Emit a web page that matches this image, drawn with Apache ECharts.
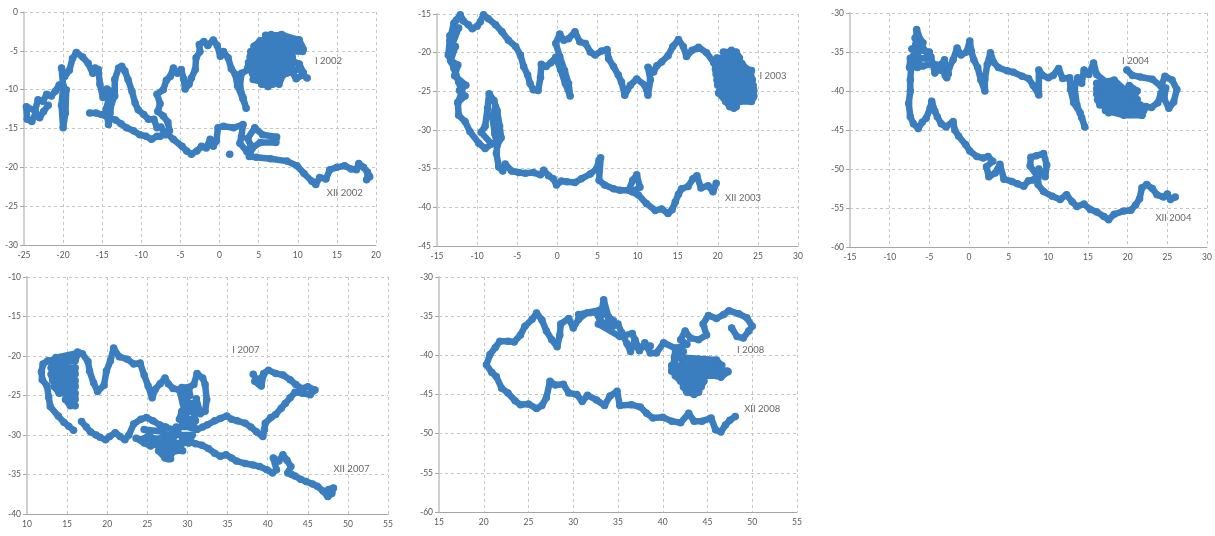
<!DOCTYPE html>
<html>
<head>
<meta charset="utf-8">
<script src="https://cdn.jsdelivr.net/npm/echarts@6/dist/echarts.min.js"></script>
<style>
html,body{margin:0;padding:0;background:#fff;}
#chart{width:1215px;height:536px;}
</style>
</head>
<body>
<div id="chart"></div>
<script>
// ---------- DATA ----------
const xTicks2002 = [-25, 20], yTicks2002 = [-30, 0];
const xTicks2003 = [-15, 30], yTicks2003 = [-45, -15];
const xTicks2004 = [-15, 30], yTicks2004 = [-60, -30];
const xTicks2007 = [10, 55], yTicks2007 = [-40, -10];
const xTicks2008 = [15, 55], yTicks2008 = [-60, -30];

const labels2002 = [["I 2002", 12.2, -6.3], ["XII 2002", 13.7, -23.3]];
const labels2003 = [["I 2003", 25.2, -23.0], ["XII 2003", 20.9, -38.8]];
const labels2004 = [["I 2004", 19.3, -36.1], ["XII 2004", 23.5, -56.3]];
const labels2007 = [["I 2007", 35.6, -19.2], ["XII 2007", 48.2, -34.3]];
const labels2008 = [["I 2008", 48.3, -39.3], ["XII 2008", 49.1, -46.8]];

const track2002a = [[11.2,-8.5],[10.6,-8.1],[9.8,-8.6],[9.3,-7.8],[10.1,-7.3],[10.7,-7.8],[10.2,-6.7],[9.3,-6.3],[8.7,-5.4],[9.4,-4.6],[10.3,-4.3],[10.7,-4.8],[10.2,-3.6],[9.3,-4.0],[8.5,-3.3],[7.9,-2.9],[7.3,-3.6],[6.6,-2.9],[5.9,-3.2],[5.4,-4.3],[4.5,-4.7],[4.1,-5.7],[4.9,-6.3],[4.2,-7.1],[5.0,-7.7],[4.3,-8.7],[5.4,-9.0],[6.2,-9.6],[6.8,-8.7],[7.6,-9.3],[8.1,-8.1],[7.3,-7.3],[6.4,-8.0],[5.8,-6.9],[6.7,-6.1],[7.6,-6.5],[8.2,-5.6],[7.6,-4.8],[6.6,-4.4],[5.9,-5.4],[5.2,-5.7],[5.6,-6.7],[4.8,-7.2],[3.7,-7.4],[2.8,-7.9],[2.6,-9.6],[3.0,-11.0],[3.4,-12.4],[3.0,-11.2],[2.3,-9.5],[2.0,-8.0],[1.5,-7.3],[1.1,-5.9],[0.5,-5.1],[0.1,-5.7],[-0.3,-4.3],[-0.8,-3.6],[-1.5,-4.3],[-2.0,-3.8],[-2.6,-4.2],[-2.5,-5.1],[-3.0,-5.9],[-3.1,-7.4],[-3.6,-8.5],[-3.9,-9.3],[-4.4,-9.9],[-4.6,-8.6],[-4.9,-7.4],[-5.4,-7.9],[-5.9,-7.2],[-6.3,-8.3],[-6.8,-8.8],[-7.2,-10.0],[-8.0,-10.6],[-7.6,-11.8],[-7.9,-12.8],[-7.2,-13.4],[-6.6,-14.2],[-6.4,-15.3],[-6.9,-15.8],[-7.5,-14.8],[-8.0,-14.9],[-8.4,-13.8],[-9.1,-13.8],[-9.7,-13.2],[-10.4,-12.6],[-10.8,-11.7],[-11.2,-10.2],[-11.7,-8.7],[-12.1,-7.6],[-12.5,-7.0],[-12.9,-7.2],[-13.4,-8.7],[-13.4,-10.8],[-13.8,-11.7],[-14.0,-13.0],[-14.2,-14.5],[-14.5,-12.5],[-13.9,-10.2],[-14.4,-9.9],[-14.9,-11.0],[-15.3,-9.3],[-15.5,-7.4],[-15.9,-7.2],[-16.2,-7.9],[-16.8,-6.6],[-17.5,-5.8],[-18.3,-5.2],[-18.8,-6.0],[-19.2,-7.5],[-19.8,-8.3],[-20.2,-7.2],[-20.0,-9.5],[-20.2,-12.0],[-20.0,-14.9],[-19.7,-13.0],[-19.6,-10.0],[-20.5,-9.4],[-21.0,-10.2],[-21.5,-10.8],[-22.1,-10.6],[-22.6,-11.5],[-23.2,-11.3],[-23.6,-12.7],[-24.7,-12.2],[-24.6,-13.8],[-24.0,-14.1],[-23.5,-13.0],[-23.0,-13.6],[-22.5,-12.8],[-21.9,-12.0]];
const track2002b = [[-16.6,-13.0],[-15.8,-13.0],[-15.1,-13.2],[-14.2,-13.6],[-13.3,-13.9],[-12.6,-14.4],[-11.9,-14.9],[-11.0,-15.3],[-10.2,-15.8],[-9.4,-16.0],[-8.7,-16.4],[-8.0,-16.0],[-7.6,-16.0],[-6.8,-15.6],[-5.9,-16.4],[-4.8,-17.3],[-4.2,-17.9],[-3.6,-18.3],[-2.9,-17.9],[-2.3,-17.3],[-1.7,-17.5],[-1.2,-16.4],[-0.8,-17.3],[-0.4,-16.6],[-0.2,-14.9],[0.5,-14.7],[1.8,-14.9],[3.0,-14.5],[2.8,-16.0],[2.6,-16.9],[3.5,-18.0],[4.0,-17.2],[3.6,-16.3],[4.5,-14.9],[5.5,-15.8],[7.3,-16.1],[7.2,-16.8],[5.2,-16.8],[4.2,-17.5],[3.8,-18.6],[4.7,-18.7],[6.5,-18.9],[8.6,-19.2],[9.9,-19.8],[10.8,-20.8],[11.8,-21.8],[12.3,-22.2],[12.8,-21.3],[13.6,-21.5],[14.1,-20.3],[15.0,-20.0],[16.0,-19.8],[16.8,-20.2],[17.5,-20.3],[17.8,-19.5],[18.4,-20.0],[18.9,-20.6],[19.2,-21.2],[18.8,-21.6],[19.0,-21.0]];
const track2002c = [[1.3,-18.3]];
const fill2002 = [[5.9,-3.0],[8.1,-3.0],[10.1,-3.6],[5.2,-3.7],[4.4,-4.4],[10.5,-4.4],[10.6,-5.1],[4.0,-5.1],[3.9,-5.8],[9.3,-5.8],[9.5,-6.5],[3.7,-6.5],[3.6,-7.2],[9.2,-7.2],[8.6,-7.9],[4.2,-7.9],[4.4,-8.6],[7.6,-8.6],[6.8,-9.3],[5.4,-9.3]];

const track2003 = [[24.4,-25.8],[24.1,-24.2],[23.5,-23.2],[24.2,-22.3],[23.1,-22.0],[22.4,-20.3],[21.7,-19.7],[21.0,-20.3],[21.4,-21.9],[22.1,-23.4],[21.5,-25.0],[22.0,-27.2],[21.0,-26.3],[20.1,-25.2],[20.6,-23.6],[22.8,-24.5],[23.6,-25.8],[22.7,-26.3],[21.2,-23.5],[20.0,-22.4],[19.5,-21.3],[18.6,-20.0],[17.6,-19.3],[16.8,-19.7],[16.1,-20.5],[15.7,-19.2],[15.1,-18.3],[14.4,-19.2],[13.8,-20.4],[13.0,-21.2],[12.4,-21.7],[12.0,-22.5],[11.3,-21.9],[11.6,-23.5],[11.3,-25.5],[10.9,-24.2],[9.9,-23.4],[9.1,-24.2],[8.4,-25.5],[8.0,-23.8],[7.6,-22.9],[7.0,-21.8],[6.4,-20.8],[6.2,-19.6],[5.5,-19.8],[4.7,-20.3],[4.1,-19.9],[3.5,-18.8],[2.8,-18.6],[2.2,-17.3],[1.4,-18.2],[0.8,-18.4],[0.3,-17.6],[-0.2,-18.8],[0.3,-20.5],[0.9,-22.3],[1.4,-24.0],[1.6,-25.6],[1.0,-24.0],[0.4,-22.2],[-0.2,-20.6],[-0.8,-21.3],[-1.4,-21.8],[-2.0,-21.5],[-2.1,-23.2],[-2.4,-24.9],[-3.0,-24.8],[-3.4,-24.0],[-3.7,-22.9],[-4.2,-21.8],[-4.6,-20.3],[-5.2,-19.2],[-6.1,-18.4],[-6.9,-17.3],[-7.7,-16.4],[-8.6,-15.6],[-9.2,-15.1],[-9.6,-16.0],[-10.0,-16.6],[-10.6,-16.9],[-11.1,-16.4],[-11.7,-15.9],[-12.1,-15.1],[-12.6,-15.8],[-12.9,-16.2],[-13.4,-18.4],[-13.6,-20.3],[-13.2,-21.2],[-12.9,-22.0],[-12.6,-23.0],[-12.3,-23.8],[-11.9,-25.1],[-12.4,-26.5],[-12.3,-28.1],[-11.5,-28.9],[-10.9,-30.2],[-9.8,-31.7],[-9.0,-32.4],[-8.2,-31.8],[-9.5,-30.3],[-9.0,-29.5],[-8.7,-27.2],[-8.5,-25.3],[-7.9,-26.2],[-7.5,-27.5],[-7.2,-29.5],[-7.0,-31.0],[-7.5,-32.0],[-7.8,-30.5],[-8.1,-28.3],[-7.7,-27.0],[-7.3,-30.2],[-7.6,-33.0],[-7.3,-34.8],[-6.8,-35.3],[-6.5,-34.4],[-5.7,-35.3],[-4.8,-35.5],[-4.0,-35.6],[-3.0,-35.5],[-2.1,-35.8],[-1.7,-35.2],[-1.1,-35.9],[-0.5,-36.3],[-0.1,-37.1],[0.5,-36.6],[1.2,-36.7],[2.2,-36.8],[3.0,-36.3],[4.1,-35.7],[4.9,-35.0],[5.2,-33.9],[5.4,-33.6],[5.2,-36.5],[5.9,-37.1],[7.0,-37.6],[7.8,-37.8],[8.9,-37.8],[9.4,-36.5],[9.9,-35.8],[10.3,-37.4],[9.3,-38.0],[10.1,-38.4],[11.1,-39.5],[12.2,-40.4],[13.0,-40.2],[13.8,-40.8],[14.3,-40.3],[14.7,-39.3],[15.1,-38.3],[15.5,-37.6],[16.3,-37.3],[16.9,-36.3],[17.4,-35.9],[17.9,-37.5],[18.8,-37.2],[19.4,-38.0],[19.8,-36.9]];
const fill2003a = [[20.7,-19.9],[22.3,-19.9],[22.7,-20.7],[19.9,-20.7],[19.6,-21.4],[23.0,-21.4],[23.6,-22.1],[19.7,-22.1],[19.8,-22.8],[24.1,-22.8],[24.3,-23.5],[19.9,-23.5],[20.0,-24.2],[24.4,-24.2],[24.5,-24.9],[20.3,-24.9],[20.6,-25.6],[24.5,-25.6],[24.2,-26.3],[21.0,-26.3],[21.5,-27.0],[22.3,-27.0]];
const fill2003b = [[-13.4,-17.8],[-12.3,-16.8],[-13.3,-19.5],[-12.7,-19.2],[-13.3,-21.0],[-12.4,-21.6],[-12.8,-23.0],[-11.4,-24.2],[-12.2,-24.9],[-11.5,-25.6],[-12.4,-26.4]];

const track2004 = [[19.9,-37.3],[20.6,-38.0],[21.6,-38.2],[23.1,-38.5],[24.2,-39.4],[24.7,-38.1],[25.6,-38.6],[26.2,-39.8],[25.8,-41.4],[25.2,-42.2],[24.6,-41.0],[24.8,-39.6],[24.2,-40.3],[23.8,-41.5],[23.0,-42.1],[22.3,-42.0],[21.8,-43.1],[21.0,-42.6],[20.3,-43.0],[19.6,-41.8],[20.6,-41.2],[21.2,-40.0],[20.2,-39.3],[19.4,-40.5],[18.6,-39.4],[18.0,-40.8],[18.6,-42.2],[17.6,-42.8],[16.8,-41.6],[16.3,-40.3],[17.2,-39.5],[17.8,-41.2],[19.2,-42.6],[20.0,-40.2],[18.3,-38.6],[17.2,-38.8],[16.1,-37.9],[15.7,-36.4],[15.1,-37.9],[14.5,-37.3],[14.2,-39.0],[13.7,-38.3],[13.3,-39.6],[13.6,-41.8],[14.2,-43.4],[14.6,-44.6],[14.0,-42.8],[13.2,-41.5],[12.8,-39.8],[12.7,-38.3],[11.8,-38.4],[11.3,-37.1],[10.6,-38.0],[10.0,-38.3],[9.3,-38.0],[8.8,-37.3],[8.8,-40.5],[8.1,-39.3],[7.5,-38.4],[6.7,-38.1],[5.6,-37.6],[4.8,-37.4],[3.7,-37.0],[3.1,-36.3],[2.7,-35.1],[2.3,-36.6],[2.0,-38.5],[2.0,-40.0],[1.5,-38.6],[1.1,-37.0],[0.6,-36.0],[0.3,-34.9],[0.1,-33.6],[-0.3,-35.0],[-1.0,-35.4],[-1.5,-34.5],[-2.0,-36.0],[-2.5,-37.0],[-2.8,-38.3],[-3.1,-36.0],[-3.0,-38.0],[-3.4,-36.5],[-4.3,-37.7],[-4.8,-35.6],[-5.7,-34.7],[-6.1,-33.5],[-6.6,-32.1],[-6.7,-34.0],[-6.3,-36.0],[-6.5,-37.0],[-7.0,-35.5],[-7.3,-37.0],[-7.4,-38.6],[-7.4,-40.0],[-7.6,-41.6],[-7.4,-43.3],[-7.0,-44.2],[-6.4,-44.8],[-5.9,-44.0],[-5.4,-43.5],[-4.9,-42.2],[-4.7,-41.3],[-4.3,-42.6],[-4.0,-43.3],[-3.5,-44.2],[-2.9,-44.6],[-2.0,-43.9],[-1.8,-45.0],[-1.3,-45.8],[-0.4,-46.9],[0.1,-47.7],[1.0,-48.4],[1.8,-48.6],[2.4,-48.4],[3.0,-49.0],[2.2,-49.7],[2.5,-51.0],[3.3,-50.5],[3.9,-49.4],[4.4,-51.3],[5.4,-51.6],[6.1,-51.9],[6.9,-52.2],[7.5,-51.5],[8.1,-51.4],[8.6,-50.9],[7.7,-49.6],[7.8,-48.5],[8.5,-48.3],[9.4,-48.0],[9.8,-49.5],[9.6,-51.0],[8.8,-50.0],[8.7,-52.0],[9.4,-52.9],[10.5,-53.5],[11.5,-53.9],[12.3,-53.3],[13.0,-54.2],[13.6,-54.8],[14.5,-54.5],[15.3,-55.2],[16.1,-55.5],[17.0,-56.1],[17.6,-56.5],[18.3,-55.8],[19.5,-55.4],[20.4,-55.3],[21.0,-54.6],[21.5,-53.8],[21.8,-52.4],[22.4,-52.0],[23.1,-52.5],[23.7,-53.3],[24.5,-53.6],[25.0,-53.2],[25.4,-53.9],[26.0,-53.6]];
const fill2004a = [[16.1,-39.0],[18.2,-39.0],[18.8,-39.7],[16.1,-39.7],[16.1,-40.4],[20.5,-40.4],[21.2,-41.1],[16.2,-41.1],[16.5,-41.8],[21.6,-41.8],[22.0,-42.5],[17.2,-42.5],[19.5,-43.1],[21.8,-43.1]];
const fill2004b = [[-6.8,-33.2],[-5.8,-33.8],[-7.2,-34.6],[-5.0,-35.0],[-5.4,-35.8],[-7.4,-35.8],[-7.5,-37.0],[-5.8,-36.8],[-4.6,-36.5],[-3.2,-36.8],[-2.6,-37.8],[-4.0,-37.2]];

const track2007a = [[38.2,-22.3],[38.9,-23.5],[39.4,-22.6],[38.4,-23.2],[39.2,-23.8],[39.5,-22.2],[40.1,-21.8],[41.0,-22.2],[41.9,-22.4],[42.8,-23.0],[43.5,-23.6],[44.2,-24.1],[45.0,-23.9],[45.9,-24.3],[45.3,-24.9],[44.3,-24.7],[43.4,-24.6],[42.8,-25.3],[42.2,-26.0],[41.7,-26.6],[41.0,-27.4],[40.4,-27.8],[39.7,-28.5],[39.6,-29.3],[39.4,-30.2],[38.6,-29.6],[37.9,-29.0],[37.2,-28.5],[36.2,-28.2],[35.5,-28.0],[34.9,-27.6],[34.1,-27.9],[33.4,-28.2],[32.5,-28.7],[31.9,-29.0],[31.2,-29.3],[30.3,-29.0],[29.8,-27.6],[30.2,-26.0],[29.6,-25.0],[30.1,-24.0],[30.8,-23.6],[31.2,-22.2],[31.9,-22.8],[32.2,-23.6],[32.4,-25.5],[32.2,-27.0],[31.6,-27.3],[31.1,-25.4],[30.8,-27.2],[31.0,-28.2],[30.2,-28.6],[29.3,-28.9],[29.6,-26.8],[29.0,-24.3],[28.2,-24.1],[27.6,-23.5],[27.2,-22.8],[26.6,-23.5],[26.0,-24.2],[25.6,-25.3],[25.1,-23.8],[24.6,-22.4],[24.1,-20.9],[23.3,-21.0],[22.5,-20.4],[21.5,-20.1],[20.8,-19.0],[20.4,-20.6],[19.9,-21.9],[19.6,-23.7],[18.8,-24.5],[18.3,-23.4],[17.8,-21.9],[17.6,-20.7],[16.9,-19.7],[16.3,-19.5],[15.7,-20.0],[14.4,-20.2],[13.4,-20.5],[12.6,-20.6],[12.0,-21.0],[11.8,-22.0],[11.9,-23.0],[12.5,-23.8],[12.7,-25.2],[12.9,-26.4],[13.9,-27.6],[14.6,-28.4],[15.2,-28.9],[15.8,-29.4]];
const fill2007a = [[13.6,-20.2],[16.4,-19.6],[16.0,-20.6],[13.2,-20.8],[13.0,-21.5],[16.0,-21.5],[16.0,-22.3],[13.0,-22.3],[13.2,-23.1],[16.0,-23.1],[16.0,-23.9],[13.4,-23.9],[14.0,-24.7],[16.0,-24.7],[16.0,-25.5],[14.8,-25.5],[15.4,-26.3],[16.0,-26.3]];
const track2007b = [[16.8,-28.3],[17.4,-29.0],[17.9,-29.6],[18.6,-30.0],[19.1,-30.3],[19.8,-30.6],[20.3,-30.2],[21.0,-29.7],[21.6,-30.2],[22.2,-30.6],[22.7,-30.0],[23.3,-28.6],[24.2,-28.0],[24.9,-27.8],[25.7,-28.2],[26.5,-28.7],[27.3,-29.0],[28.1,-29.3],[28.8,-29.6],[28.2,-30.4],[27.5,-30.0],[26.8,-30.4],[26.0,-30.6],[25.2,-30.0],[24.4,-30.6],[23.6,-30.4],[24.6,-31.0],[25.4,-31.4],[26.2,-31.0],[26.6,-32.0],[27.2,-32.6],[27.6,-33.0],[28.1,-32.2],[28.6,-31.2],[29.1,-31.9],[29.4,-30.5],[29.9,-30.2],[30.3,-30.8],[31.0,-31.1],[31.8,-31.3],[32.6,-31.7],[33.4,-32.3],[34.1,-32.7],[34.8,-32.5],[35.5,-32.9],[36.1,-33.3],[37.2,-33.6],[38.2,-33.8],[39.0,-34.0],[39.9,-34.4],[40.6,-34.8],[41.1,-34.4],[40.7,-32.9],[41.4,-33.3],[41.9,-32.5],[42.4,-33.2],[42.9,-34.0],[42.5,-34.8],[43.0,-35.0],[43.4,-35.2],[44.1,-35.6],[44.8,-35.9],[45.6,-36.2],[46.2,-36.5],[46.9,-37.1],[47.5,-37.8],[48.0,-37.4],[48.2,-36.7],[47.6,-36.9]];
const fill2007b = [[29.3,-24.0],[30.2,-24.0],[30.3,-25.0],[29.4,-25.0],[29.5,-26.0],[30.4,-26.0],[30.5,-27.0],[29.3,-27.0],[29.0,-28.0],[30.6,-28.0],[30.8,-29.0],[28.6,-29.0],[28.4,-30.0],[30.6,-30.0],[30.2,-31.0],[28.2,-31.0],[28.6,-32.0],[29.4,-32.0]];
const fill2007c = [[24.6,-29.3],[27.0,-29.6],[27.5,-30.5],[24.8,-30.4],[25.4,-31.2],[27.8,-31.3],[28.0,-32.2],[26.4,-32.0],[27.2,-32.9],[27.9,-33.0]];

const track2008 = [[47.7,-36.5],[48.3,-37.6],[49.0,-37.8],[49.6,-36.9],[50.0,-36.3],[49.4,-35.2],[48.5,-34.7],[47.4,-34.3],[46.8,-34.8],[46.0,-35.3],[45.1,-34.9],[44.5,-36.0],[44.9,-37.4],[44.0,-38.0],[43.1,-37.8],[42.5,-36.9],[42.0,-38.0],[42.7,-38.6],[41.4,-39.1],[41.3,-40.8],[41.0,-42.0],[42.0,-43.0],[42.5,-44.0],[42.7,-44.6],[43.5,-45.0],[44.0,-44.5],[44.4,-43.5],[43.5,-43.0],[43.0,-42.0],[43.2,-41.0],[44.0,-40.5],[44.9,-40.6],[45.9,-41.0],[46.4,-42.0],[47.3,-42.1],[46.5,-42.8],[45.5,-42.3],[44.6,-41.8],[43.8,-41.6],[42.6,-41.2],[41.8,-40.2],[42.3,-39.5],[41.4,-39.1],[40.1,-38.4],[39.3,-39.7],[38.6,-39.7],[38.0,-38.4],[37.4,-39.4],[36.9,-38.0],[36.4,-39.5],[36.0,-38.5],[35.4,-37.1],[35.0,-36.0],[34.2,-36.5],[33.9,-35.0],[33.4,-32.9],[33.0,-35.5],[32.5,-34.5],[31.5,-34.6],[30.6,-35.4],[30.0,-36.5],[29.5,-35.3],[28.6,-36.0],[28.5,-37.4],[28.2,-38.9],[27.6,-38.0],[27.0,-36.9],[26.5,-35.5],[25.9,-34.6],[25.4,-35.4],[24.6,-36.3],[24.1,-37.4],[23.4,-38.3],[22.7,-38.2],[21.8,-38.2],[21.3,-39.0],[20.7,-39.9],[20.3,-41.2],[20.9,-42.2],[21.4,-42.7],[22.0,-44.2],[22.7,-44.8],[23.5,-45.8],[24.1,-46.3],[25.0,-46.2],[25.9,-46.8],[26.5,-46.4],[27.0,-45.4],[27.4,-43.3],[28.0,-43.8],[28.9,-43.7],[29.5,-44.8],[30.4,-45.0],[31.0,-45.9],[31.6,-45.1],[32.6,-45.7],[33.5,-46.4],[34.1,-45.2],[34.9,-44.6],[35.2,-46.4],[36.5,-46.3],[37.5,-46.6],[38.2,-47.4],[38.9,-48.0],[40.0,-47.9],[41.0,-48.4],[42.0,-48.6],[42.9,-47.4],[43.5,-48.4],[44.4,-48.4],[45.4,-48.0],[45.9,-49.5],[46.5,-49.8],[47.0,-48.9],[47.5,-48.3],[48.1,-47.8]];
const fill2008a = [[41.3,-40.2],[46.0,-40.6],[46.6,-41.3],[41.0,-41.3],[41.0,-42.0],[47.2,-42.0],[46.0,-42.6],[41.4,-42.6],[42.0,-43.3],[44.6,-43.3],[44.3,-44.0],[42.3,-44.0],[42.7,-44.7],[44.0,-44.7]];
const fill2008b = [[30.6,-34.8],[33.0,-34.2],[34.5,-35.6],[32.8,-36.0],[35.2,-37.6],[36.6,-37.2],[37.2,-39.0],[38.6,-38.8]];

// ---------- LAYOUT ----------
const panels = [
  {grid:{left:24, top:12, width:352, height:233}, x:xTicks2002, y:yTicks2002, tracks:[track2002a, track2002b, track2002c, fill2002], labels:labels2002},
  {grid:{left:437, top:14, width:361, height:232}, x:xTicks2003, y:yTicks2003, tracks:[track2003, fill2003a, fill2003b], labels:labels2003},
  {grid:{left:850, top:13, width:357, height:234}, x:xTicks2004, y:yTicks2004, tracks:[track2004, fill2004a, fill2004b], labels:labels2004},
  {grid:{left:27, top:277, width:361, height:237}, x:xTicks2007, y:yTicks2007, tracks:[track2007a, fill2007a, track2007b, fill2007b, fill2007c], labels:labels2007},
  {grid:{left:439, top:277, width:358, height:235}, x:xTicks2008, y:yTicks2008, tracks:[track2008, fill2008a, fill2008b], labels:labels2008}
];

const BLUE = '#3a7ebf';
const FONT = 'Lato, "Open Sans", sans-serif';
const grids = [], xAxes = [], yAxes = [], series = [];
panels.forEach((p, i) => {
  grids.push(Object.assign({containLabel:false}, p.grid));
  const split = {show:true, lineStyle:{color:'#c6c6c6', type:[3,3], width:1}};
  xAxes.push({
    type:'value', gridIndex:i, min:p.x[0], max:p.x[1], interval:5,
    axisLine:{show:true, onZero:false, lineStyle:{color:'#a6a6a6', width:1}},
    axisTick:{show:false},
    splitLine:split,
    axisLabel:{fontSize:8.5, color:'#595959', fontFamily:FONT, margin:6}
  });
  yAxes.push({
    type:'value', gridIndex:i, min:p.y[0], max:p.y[1], interval:5,
    axisLine:{show:true, onZero:false, lineStyle:{color:'#d0d0d0', width:2}},
    axisTick:{show:true, length:4, lineStyle:{color:'#a6a6a6'}},
    splitLine:split,
    axisLabel:{fontSize:8.5, color:'#595959', fontFamily:FONT, margin:6}
  });
  p.tracks.forEach(t => {
    series.push({
      type:'line', xAxisIndex:i, yAxisIndex:i, data:t,
      symbol:'circle', symbolSize:7.5, showSymbol:true,
      lineStyle:{color:BLUE, width:6.5, cap:'round', join:'round'},
      itemStyle:{color:BLUE, borderWidth:0},
      silent:true, z:2
    });
  });
  series.push({
    type:'scatter', xAxisIndex:i, yAxisIndex:i, symbolSize:0, silent:true, z:5,
    data:p.labels.map(l => ({name:l[0], value:[l[1], l[2]]})),
    label:{show:true, position:'right', distance:0, formatter:'{b}',
           fontSize:9.5, color:'#404040', fontFamily:FONT}
  });
});

const chart = echarts.init(document.getElementById('chart'), null, {renderer:'canvas'});
chart.setOption({
  animation:false,
  backgroundColor:'#ffffff',
  grid:grids, xAxis:xAxes, yAxis:yAxes, series:series
});
</script>
</body>
</html>
